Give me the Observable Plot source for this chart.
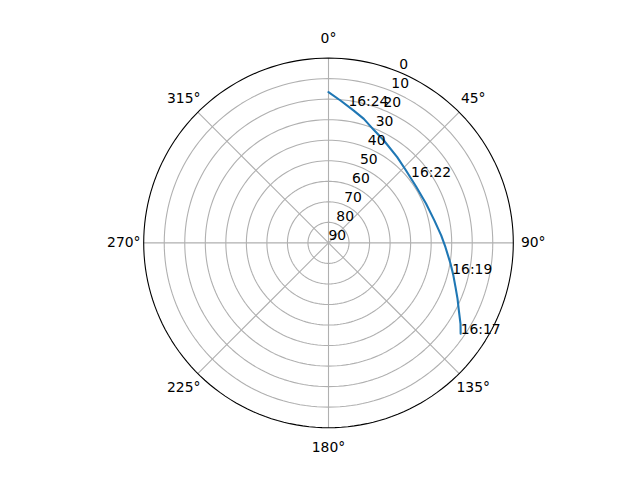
<!DOCTYPE html>
<html><head><meta charset="utf-8">
<script src="https://cdn.jsdelivr.net/npm/d3@7"></script>
<script src="https://cdn.jsdelivr.net/npm/@observablehq/plot@0.6"></script>
<style>body{margin:0;background:#fff;}</style>
</head><body><div id="chart"></div>
<script>
// Satellite track: azimuth (deg, clockwise from north) and elevation (deg)
const azimuth   = [124.5, 121.5, 117.4, 109.2, 99.7, 92.1, 86.2, 78.0, 68.0, 57.4, 46.8, 38.7, 28.4, 21.8, 15.9, 10.8, 4.8, 0];
const elevation = [11.9, 14.6, 18.5, 24.5, 29.7, 33.0, 35.0, 37.3, 38.8, 39.3, 38.3, 36.5, 33.3, 30.7, 27.2, 24.4, 20.4, 16.6];

// Time annotations
const labelTimes     = ["16:17", "16:19", "16:22", "16:24"];
const labelAzimuth   = [124.5, 104.3, 51.2, 8.3];
const labelElevation = [11.9, 27.8, 38.4, 22.8];

// Axis ticks
const thetaTicks  = [0, 45, 90, 135, 180, 225, 270, 315];
const thetaLabels = ["0°", "45°", "90°", "135°", "180°", "225°", "270°", "315°"];
const radialTicks = [0, 10, 20, 30, 40, 50, 60, 70, 80, 90];
const radialLabelAngle = 22.5;

const lon = (az) => 180 - az;
const track = azimuth.map((a, i) => ({az: a, el: elevation[i]}));
const labels = labelTimes.map((t, i) => ({t, az: labelAzimuth[i], el: labelElevation[i]}));
const thetas = thetaTicks.map((a, i) => ({a, label: thetaLabels[i]}));
const FS = 13.9;

const chart = Plot.plot({
  width: 640,
  height: 480,
  marginTop: 57.6,
  marginBottom: 52.8,
  marginLeft: 143.2,
  marginRight: 127.2,
  projection: {
    type: "azimuthal-equidistant",
    rotate: [0, -90],
    clip: false,
    domain: d3.geoCircle().center([0, 90]).radius(90)()
  },
  style: {fontFamily: "DejaVu Sans", fontSize: FS + "px", background: "#fff", color: "#000"},
  marks: [
    Plot.geo(radialTicks.filter(v => v > 0 && v < 90), {
      geometry: (v) => d3.geoCircle().center([0, 90]).radius(90 - v)(),
      stroke: "#b0b0b0", strokeWidth: 1.1, fill: "none"
    }),
    Plot.link(thetaTicks, {
      x1: (d) => lon(d), y1: () => 0, x2: (d) => lon(d), y2: () => 90,
      stroke: "#b0b0b0", strokeWidth: 1.1
    }),
    Plot.geo([d3.geoCircle().center([0, 90]).radius(90)()], {stroke: "#000", strokeWidth: 1.1, fill: "none"}),
    Plot.line(track, {x: (d) => lon(d.az), y: "el", stroke: "#1f77b4", strokeWidth: 2.1}),
    Plot.text(labels, {x: (d) => lon(d.az), y: "el", text: "t", textAnchor: "start", lineAnchor: "bottom", fontSize: FS, fill: "#000"}),
    Plot.text(radialTicks, {x: () => lon(radialLabelAngle), y: (d) => d, text: (d) => String(d), textAnchor: "start", lineAnchor: "bottom", dy: -3, fontSize: FS, fill: "#000"}),
    Plot.text(thetas, {x: (d) => lon(d.a), y: () => -9.7, text: "label", textAnchor: "middle", lineAnchor: "middle", fontSize: FS, fill: "#000"})
  ]
});
document.getElementById("chart").appendChild(chart);
</script>
</body></html>
